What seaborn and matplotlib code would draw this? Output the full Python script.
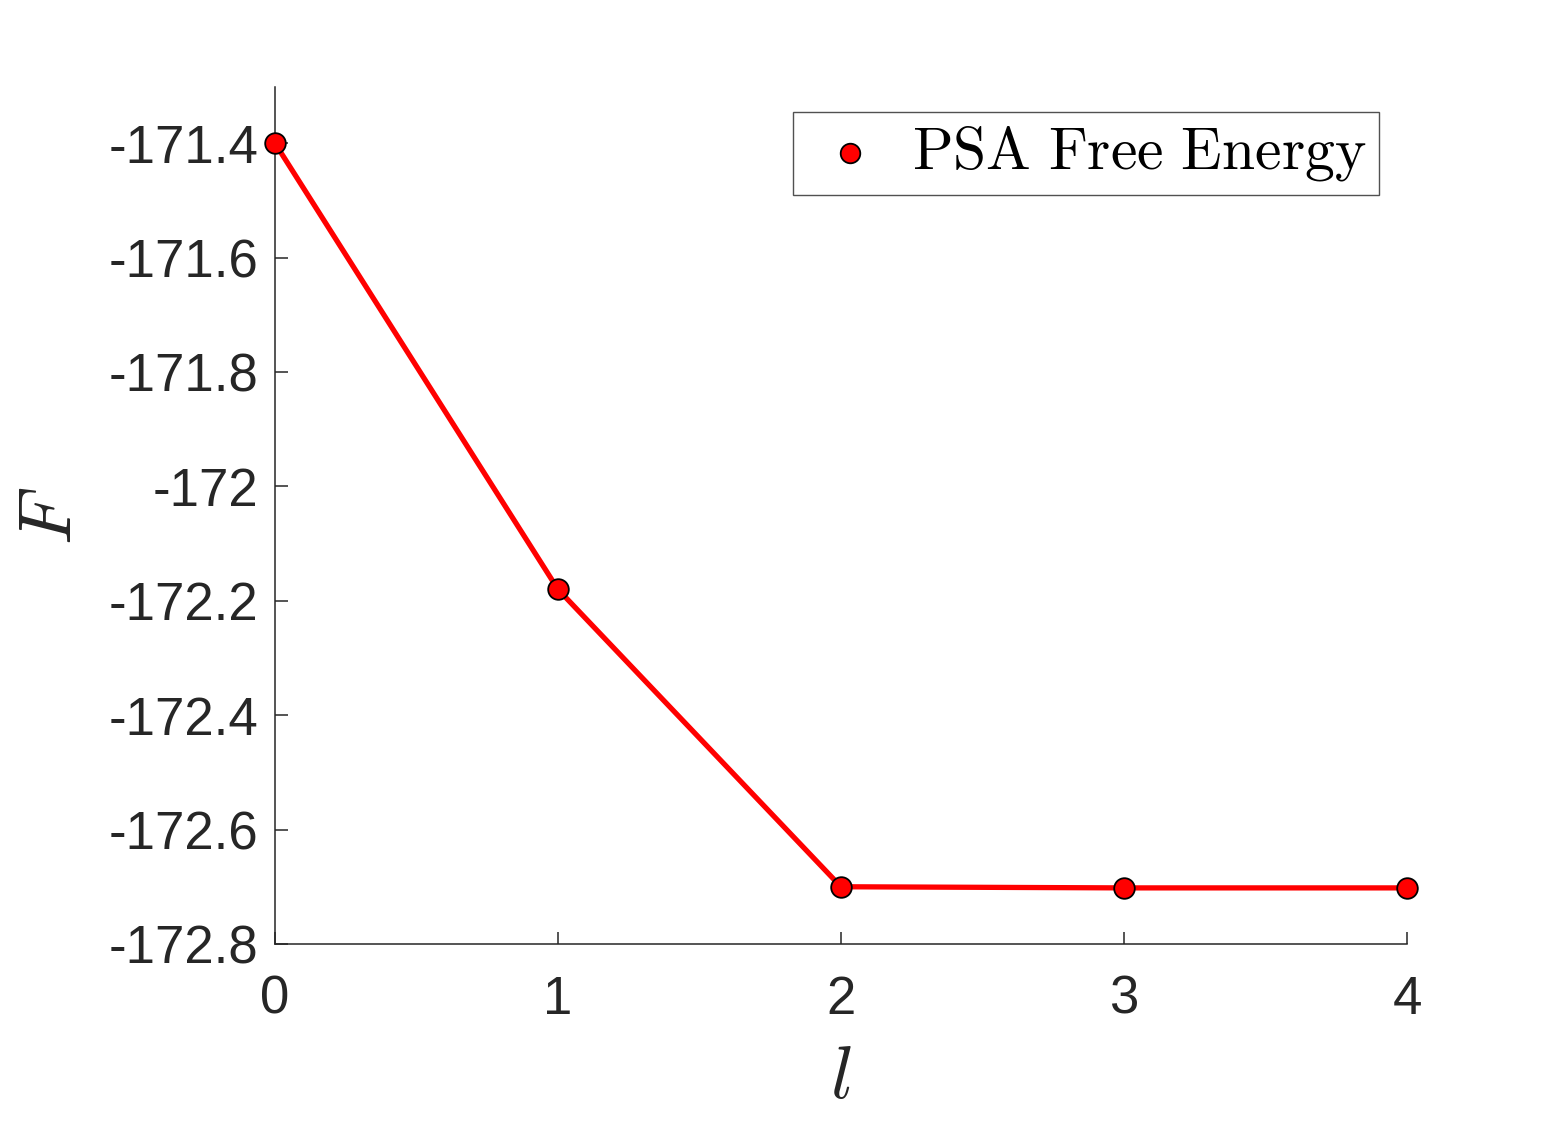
import matplotlib
matplotlib.use("Agg")
import matplotlib.pyplot as plt
import seaborn as sns
import pandas as pd

l_values = [0, 1, 2, 3, 4]
free_energy = [-171.40, -172.18, -172.700, -172.702, -172.702]
y_ticks = [-172.8, -172.6, -172.4, -172.2, -172.0, -171.8, -171.6, -171.4]
x_ticks = [0, 1, 2, 3, 4]
legend_label = r"$\mathrm{PSA\ Free\ Energy}$"

sns.set_theme(style="white")
plt.rcParams['font.family'] = ['Liberation Sans', 'DejaVu Sans']
plt.rcParams['mathtext.fontset'] = 'cm'

df = pd.DataFrame({"l": l_values, "F": free_energy})

fig = plt.figure(figsize=(15.55, 11.29), dpi=100)
ax = fig.add_axes([0.1768, 0.1639, 0.728, 0.759])

sns.lineplot(data=df, x="l", y="F", ax=ax, color="#ff0000", linewidth=3.8,
             legend=False, zorder=2)
sns.scatterplot(data=df, x="l", y="F", ax=ax, color="#ff0000", s=220,
                edgecolor="black", linewidth=1.3, zorder=3, label=legend_label,
                clip_on=False)

ax.set_xlim(0, 4)
ax.set_ylim(-172.8, -171.302)
ax.set_xticks(x_ticks)
ax.set_xticklabels([str(v) for v in x_ticks])
ax.set_yticks(y_ticks)
ax.set_yticklabels([f"{v:g}" for v in y_ticks])

for s in ["top", "right"]:
    ax.spines[s].set_visible(False)
for s in ["left", "bottom"]:
    ax.spines[s].set_color("#262626")
    ax.spines[s].set_linewidth(1.1)

ax.tick_params(axis="both", which="major", direction="in", length=9, width=1.1,
               color="#262626", labelsize=38, labelcolor="#262626",
               left=True, bottom=True)
ax.tick_params(axis="x", pad=22)
ax.tick_params(axis="y", pad=12)

ax.set_xlabel(r"$l$", fontsize=54, labelpad=14)
ax.set_ylabel(r"$F$", fontsize=54, labelpad=16)

leg = ax.legend(loc="upper right", bbox_to_anchor=(0.9753, 0.9708),
                borderaxespad=0, fontsize=43,
                frameon=True, fancybox=False, edgecolor="#262626",
                handletextpad=0.3, borderpad=0.2, handlelength=1.5,
                markerscale=0.95, labelcolor="black")
leg.get_frame().set_linewidth(1.0)

fig.savefig("out.png", dpi=100, facecolor="white")
